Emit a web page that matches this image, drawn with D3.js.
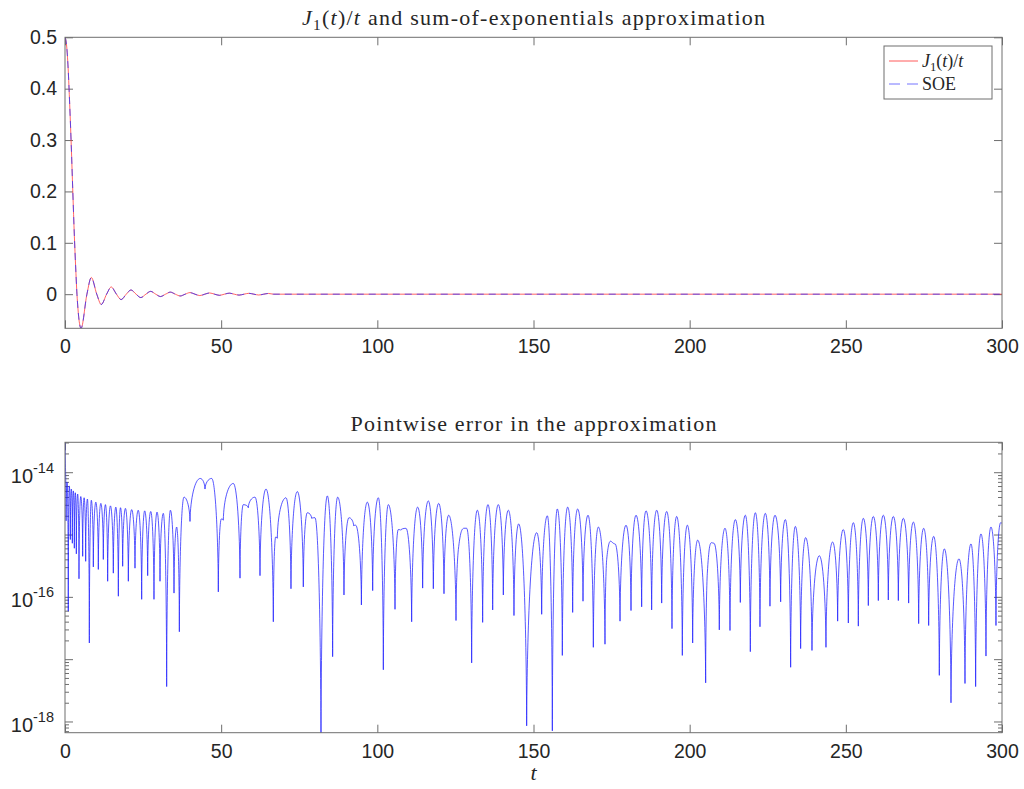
<!DOCTYPE html>
<html>
<head>
<meta charset="utf-8">
<script src="https://cdn.jsdelivr.net/npm/d3@7/dist/d3.min.js"></script>
<style>
  body { margin: 0; background: #fff; }
  svg text { font-family: "Liberation Sans", Arial, Helvetica, sans-serif; fill: #262626; }
  .tex { font-family: "Liberation Serif", "Times New Roman", serif; }
</style>
</head>
<body>
<script>
// ---- data ----
const xTicks = [0, 50, 100, 150, 200, 250, 300];
const topYTicks = [0, 0.1, 0.2, 0.3, 0.4, 0.5];

// J1(t)/t : start of the curve, then its zeros and turning points
const besselT = [0, 0.5, 1, 1.5, 2, 2.5, 3, 3.4, 3.83, 5.14, 7.02, 8.42, 10.17, 11.62, 13.32, 14.80,
  16.47, 17.96, 19.62, 21.12, 22.76, 24.27, 25.90, 27.42, 29.05, 30.57, 32.19, 33.72, 35.33,
  36.87, 38.47, 40.01, 41.62, 43.16, 44.76, 46.30, 47.90, 49.45, 51.04, 52.59, 54.19, 55.73,
  57.33, 58.88, 60.47, 62.02, 63.61, 65.16, 66.75, 300];
const besselV = [0.5, 0.485, 0.44, 0.37, 0.29, 0.20, 0.113, 0.055, 0, -0.0664, 0, 0.0325, 0, -0.0200, 0, 0.0140,
  0, -0.0105, 0, 0.0082, 0, -0.0066, 0, 0.0055, 0, -0.0046, 0, 0.0040, 0,
  -0.0035, 0, 0.0031, 0, -0.0027, 0, 0.0024, 0, -0.0022, 0, 0.0020, 0, -0.0018,
  0, 0.0017, 0, -0.0016, 0, 0.0014, 0, 0];
// the SOE curve sits on top of J1(t)/t at this resolution
const soeV = besselV;

// pointwise error: t of each dip / top, and log10 of the error there
const errT = [0, 0.35, 0.68, 1.05, 1.38, 1.71, 2.03, 2.35, 2.67, 2.99, 3.31, 3.63, 4.06, 4.48, 5.05,
  5.66, 6.12, 6.62, 7.18, 7.79, 8.43, 9.07, 9.87, 10.67, 11.47, 12.27, 12.95, 13.66, 14.55,
  15.47, 16.27, 17.08, 17.77, 18.46, 19.35, 20.28, 21.34, 22.41, 23.45, 24.55, 25.51, 26.47,
  27.45, 28.49, 29.46, 30.42, 31.48, 32.55, 33.75, 34.90, 35.75, 36.61, 38.10, 40.02, 43.3,
  44.82, 46.96, 49.09, 50.05, 50.69, 53.89, 56.03, 57.09, 58.69, 60.83, 62.43, 64.35, 66.70,
  67.45, 67.98, 70.75, 72.35, 74.38, 76.30, 77.58, 78.97, 80.04, 81.96, 83.99, 85.69, 87.30,
  89.32, 90.92, 92.41, 93.05, 94.90, 96.80, 98.51, 100.32, 101.92, 103.52, 105.66, 106.72,
  107.47, 109.18, 110.99, 112.91, 114.51, 116.33, 117.93, 119.64, 121.34, 122.84, 125.19,
  125.94, 128.60, 130.20, 132.02, 133.72, 135.43, 136.93, 138.74, 140.34, 141.94, 143.75,
  145.25, 147.81, 151.02, 152.62, 154.43, 156.03, 157.63, 159.23, 160.94, 162.54, 164.14,
  165.85, 167.45, 169.16, 170.76, 172.89, 173.43, 176.10, 177.70, 179.62, 181.22, 182.82,
  184.63, 186.02, 187.83, 189.44, 191.04, 192.64, 194.34, 195.84, 197.65, 199.25, 200.96,
  202.56, 205.12, 205.65, 207.79, 209.49, 211.31, 212.91, 214.62, 216.22, 217.82, 219.42,
  221.02, 222.51, 224.22, 225.71, 227.32, 229.13, 230.62, 232.33, 233.83, 235.53, 237.13,
  239.16, 241.51, 243.64, 245.78, 247.38, 249.19, 250.80, 252.40, 254.00, 255.60, 257.20,
  258.80, 260.40, 262.00, 263.60, 265.21, 266.81, 268.41, 270.11, 271.61, 273.32, 274.92,
  276.52, 278.12, 279.93, 281.53, 283.67, 286.23, 288.15, 290.07, 291.56, 293.27, 294.87,
  296.47, 298.07, 299.57, 300];
const errLog = [-13.53, -14.78, -14.16, -16.23, -14.22, -15.08, -14.27, -15.14, -14.30, -15.22, -14.33, -15.31, -14.35, -15.71, -14.39,
  -15.35, -14.41, -15.43, -14.43, -16.74, -14.45, -15.52, -14.48, -15.56, -14.50, -15.40, -14.52, -15.75, -14.54,
  -15.62, -14.56, -15.99, -14.57, -15.51, -14.58, -15.75, -14.60, -15.54, -14.61, -16.04, -14.62, -15.66,
  -14.63, -16.04, -14.64, -15.75, -14.66, -17.44, -14.61, -15.94, -14.88, -16.56, -14.40, -14.79, -14.10,
  -14.27, -14.10, -15.92, -14.75, -14.77, -14.18, -15.70, -14.52, -14.57, -14.40, -15.66, -14.27, -16.40,
  -15.04, -15.06, -14.41, -15.87, -14.31, -15.84, -14.65, -14.74, -14.73, -18.40, -14.38, -16.96, -14.40,
  -15.97, -14.73, -14.86, -14.85, -16.13, -14.48, -15.90, -14.41, -17.17, -14.52, -16.20, -14.92,
  -14.93, -14.90, -16.40, -14.56, -15.86, -14.46, -15.87, -14.50, -15.95, -14.69, -16.38,
  -15.24, -14.90, -17.06, -14.61, -16.41, -14.52, -16.21, -14.52, -15.97, -14.61, -16.30,
  -14.83, -18.07, -14.97, -16.28, -14.70, -18.15, -14.59, -16.94, -14.56, -16.25, -14.59,
  -16.07, -14.69, -16.81, -14.88, -16.76, -15.40, -15.15, -16.39, -14.85, -16.22, -14.69,
  -16.16, -14.62, -16.21, -14.61, -16.10, -14.63, -16.51, -14.71, -16.94, -14.85, -16.74,
  -15.09, -17.38, -15.62, -15.14, -16.53, -14.90, -16.54, -14.76, -16.09, -14.69, -16.88,
  -14.65, -16.48, -14.66, -16.15, -14.69, -16.08, -14.76, -17.13, -14.87, -16.83, -15.05,
  -16.86, -15.34, -16.81, -15.12, -16.39, -14.92, -16.42, -14.81, -16.47, -14.74, -16.14,
  -14.71, -16.06, -14.69, -16.05, -14.71, -16.06, -14.74, -16.10, -14.80, -16.43, -14.90,
  -16.46, -15.03, -17.26, -15.23, -17.70, -15.39, -17.39, -15.15, -17.44, -14.99, -16.95,
  -14.88, -16.46, -14.81, -14.82];
const errMajor = [1e-18, 1e-17, 1e-16, 1e-15, 1e-14];
const errLabelled = [-18, -16, -14];

// ---- layout ----
const W = 1024, H = 789;
const L = 65, R = 1002;
const p1 = { top: 37.3, bottom: 328.3 };
const p2 = { top: 442.3, bottom: 732.7 };
const AX = "#6e6e6e";
const TICK = 8;
const FS = 19.5;

const svg = d3.select("body").append("svg").attr("width", W).attr("height", H);

// curve for |error| on a log axis: sharp cusps at dips, round tops
class CuspCurve {
  constructor(ctx) { this._ctx = ctx; }
  areaStart() {} areaEnd() {}
  lineStart() { this._p = []; }
  point(x, y) { this._p.push([+x, +y]); }
  lineEnd() {
    const p = this._p, n = p.length, c = this._ctx;
    if (!n) return;
    const kind = p.map((q, i) => {
      if (i === 0 || i === n - 1) return "end";
      const a = p[i - 1][1], b = p[i + 1][1];
      if (q[1] <= a && q[1] <= b) return "max";
      if (q[1] >= a && q[1] >= b) return "min";
      return "mid";
    });
    const handle = (i, j) => {
      const [x, y] = p[i], dx = p[j][0] - x, dy = p[j][1] - y;
      switch (kind[i]) {
        case "max": return [x + dx * 0.5, y];
        case "min": return [x + dx * 0.04, y + dy * 0.55];
        case "mid": {
          const s = (p[i + 1][1] - p[i - 1][1]) / (p[i + 1][0] - p[i - 1][0]);
          return [x + dx / 3, y + s * dx / 3];
        }
        default: return [x + dx / 3, y + dy / 3];
      }
    };
    c.moveTo(p[0][0], p[0][1]);
    for (let i = 0; i < n - 1; i++) {
      const c1 = handle(i, i + 1), c2 = handle(i + 1, i);
      c.bezierCurveTo(c1[0], c1[1], c2[0], c2[1], p[i + 1][0], p[i + 1][1]);
    }
  }
}
const cuspCurve = ctx => new CuspCurve(ctx);

function mathJ(sel, size) {
  sel.append("tspan").attr("font-style", "italic").text("J");
  sel.append("tspan").attr("font-size", size * 0.7).attr("dy", size * 0.22).text("1");
  sel.append("tspan").attr("dy", -size * 0.22).text("(");
  sel.append("tspan").attr("font-style", "italic").text("t");
  sel.append("tspan").text(")/");
  sel.append("tspan").attr("font-style", "italic").text("t");
}

function styleAxis(g) {
  g.select(".domain").remove();
  g.selectAll(".tick line").attr("stroke", AX);
  g.selectAll(".tick text").attr("fill", "#262626").attr("font-size", FS)
    .attr("font-family", "'Liberation Sans', Arial, sans-serif");
}

function xAxes(x, panel) {
  svg.append("g").attr("transform", `translate(0,${panel.bottom})`)
    .call(d3.axisBottom(x).tickValues(xTicks).tickSize(-TICK).tickPadding(11).tickFormat(d3.format("d")))
    .call(styleAxis);
  svg.append("g").attr("transform", `translate(0,${panel.top})`)
    .call(d3.axisTop(x).tickValues(xTicks).tickSize(-TICK).tickFormat(""))
    .call(styleAxis);
}

function box(panel, id) {
  svg.append("clipPath").attr("id", id).append("rect")
    .attr("x", L).attr("y", panel.top).attr("width", R - L).attr("height", panel.bottom - panel.top);
  return () => svg.append("rect")
    .attr("x", L).attr("y", panel.top).attr("width", R - L).attr("height", panel.bottom - panel.top)
    .attr("fill", "none").attr("stroke", AX).attr("stroke-width", 1);
}

// ---- top panel ----
const x1 = d3.scaleLinear().domain([0, 300]).range([L, R]);
const y1 = d3.scaleLinear().domain([-0.0664, 0.5]).range([p1.bottom, p1.top]);
const frame1 = box(p1, "clip1");

xAxes(x1, p1);
svg.append("g").attr("transform", `translate(${L},0)`)
  .call(d3.axisLeft(y1).tickValues(topYTicks).tickSize(-TICK).tickPadding(8).tickFormat(d => d === 0 ? "0" : d3.format(".1f")(d)))
  .call(styleAxis);
svg.append("g").attr("transform", `translate(${R},0)`)
  .call(d3.axisRight(y1).tickValues(topYTicks).tickSize(-TICK).tickFormat(""))
  .call(styleAxis);

const topLine = d3.line().x((d, i) => x1(besselT[i])).y(d => y1(d)).curve(d3.curveMonotoneX);
const g1 = svg.append("g").attr("clip-path", "url(#clip1)");
g1.append("path").attr("d", topLine(besselV))
  .attr("fill", "none").attr("stroke", "#ff3030").attr("stroke-width", 0.75);
g1.append("path").attr("d", topLine(soeV))
  .attr("fill", "none").attr("stroke", "#3030ff").attr("stroke-width", 0.75)
  .attr("stroke-dasharray", "7,5");
frame1();

// legend
const lg = svg.append("g");
lg.append("rect").attr("x", 884).attr("y", 46).attr("width", 108).attr("height", 53)
  .attr("fill", "#fff").attr("stroke", AX).attr("stroke-width", 1);
lg.append("line").attr("x1", 889).attr("x2", 918).attr("y1", 61).attr("y2", 61)
  .attr("stroke", "#ff3030").attr("stroke-width", 0.8);
lg.append("line").attr("x1", 889).attr("x2", 918).attr("y1", 84).attr("y2", 84)
  .attr("stroke", "#5050ff").attr("stroke-width", 0.8).attr("stroke-dasharray", "11,7");
lg.append("text").attr("class", "tex").attr("x", 922).attr("y", 67).attr("font-size", 18).call(mathJ, 18);
lg.append("text").attr("class", "tex").attr("x", 922).attr("y", 90).attr("font-size", 18).text("SOE");

svg.append("text").attr("class", "tex").attr("x", (L + R) / 2).attr("y", 25)
  .attr("text-anchor", "middle").attr("font-size", 22)
  .attr("textLength", 463).attr("lengthAdjust", "spacing")
  .call(sel => { mathJ(sel, 22); sel.append("tspan").text(" and sum-of-exponentials approximation"); });

// ---- bottom panel ----
const x2 = d3.scaleLinear().domain([0, 300]).range([L, R]);
const y2 = d3.scaleLog().domain([Math.pow(10, -18.18), Math.pow(10, -13.52)]).range([p2.bottom, p2.top]);
const frame2 = box(p2, "clip2");

xAxes(x2, p2);
const minor = y2.ticks().filter(v => !errMajor.some(m => Math.abs(v / m - 1) < 1e-6));
[[d3.axisLeft, L], [d3.axisRight, R]].forEach(([ax, pos]) => {
  svg.append("g").attr("transform", `translate(${pos},0)`)
    .call(ax(y2).tickValues(errMajor).tickSize(-TICK).tickFormat(""))
    .call(styleAxis);
  svg.append("g").attr("transform", `translate(${pos},0)`)
    .call(ax(y2).tickValues(minor).tickSize(-4).tickFormat(""))
    .call(styleAxis);
});
errLabelled.forEach(k => {
  const t = svg.append("text").attr("x", 54).attr("y", y2(Math.pow(10, k)) + 10.5)
    .attr("text-anchor", "end").attr("font-size", 20);
  t.append("tspan").text("10");
  t.append("tspan").attr("font-size", 14.5).attr("dy", -10).text("-" + Math.abs(k));
});

const errLine = d3.line().x((d, i) => x2(errT[i])).y(d => y2(Math.pow(10, d))).curve(cuspCurve);
svg.append("g").attr("clip-path", "url(#clip2)")
  .append("path").attr("d", errLine(errLog))
  .attr("fill", "none").attr("stroke", "#2020ff").attr("stroke-width", 0.75);
frame2();

svg.append("text").attr("class", "tex").attr("x", (L + R) / 2).attr("y", 431)
  .attr("text-anchor", "middle").attr("font-size", 22)
  .attr("textLength", 366).attr("lengthAdjust", "spacing")
  .text("Pointwise error in the approximation");
svg.append("text").attr("class", "tex").attr("x", (L + R) / 2).attr("y", 780)
  .attr("text-anchor", "middle").attr("font-size", 22).attr("font-style", "italic").text("t");
</script>
</body>
</html>
